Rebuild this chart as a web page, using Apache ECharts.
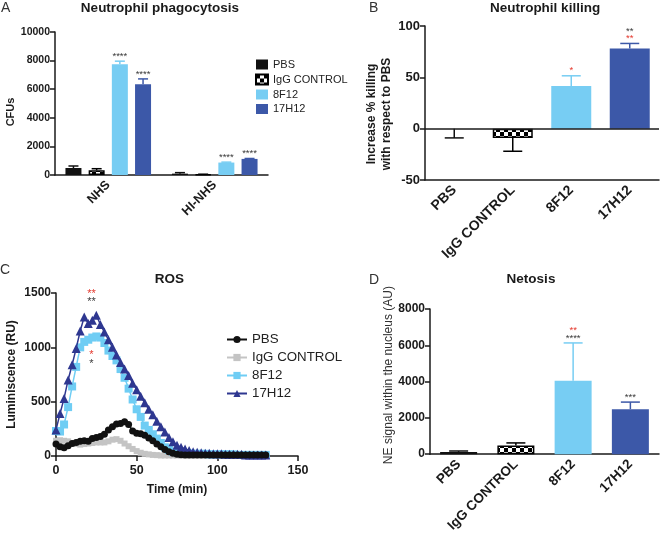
<!DOCTYPE html>
<html>
<head>
<meta charset="utf-8">
<script src="https://cdn.jsdelivr.net/npm/echarts@6.0.0/dist/echarts.min.js"></script>
<style>html,body{margin:0;padding:0;background:#fff}#chart{width:660px;height:535px}</style>
</head>
<body>
<div id="chart"></div>
<script>
// groups shared by all four panels
var groups = ['PBS', 'IgG CONTROL', '8F12', '17H12'];

// A - phagocytosis (per group: [NHS, HI-NHS])
var phagoCats = ['NHS', 'HI-NHS'];
var phagoMean = [[490, 95], [330, 45], [7750, 870], [6350, 1125]];
var phagoErr = [[140, 70], [110, 10], [210, 30], [370, 30]];
var phagoStars = [['', ''], ['', ''], ['****', '****'], ['****', '****']];

// B - killing
var killMean = [0, -9, 41.5, 78];
var killErr = [-9, -13, 10, 5];
var killStars = [[], [], [['*', 'r']], [['**', 'k'], ['**', 'r']]];

// C - ROS kinetics
var rosTime = [0, 2.5, 5, 7.5, 10, 12.5, 15, 17.5, 20, 22.5, 25, 27.5, 30, 32.5, 35, 37.5, 40, 42.5, 45, 47.5,
  50, 52.5, 55, 57.5, 60, 62.5, 65, 67.5, 70, 72.5, 75, 77.5, 80, 82.5, 85, 87.5, 90, 92.5, 95, 97.5,
  100, 102.5, 105, 107.5, 110, 112.5, 115, 117.5, 120, 122.5, 125, 127.5, 130];
var rosPBS = [110, 85, 75, 95, 115, 125, 135, 140, 135, 160, 170, 180, 200, 240, 270, 295, 300, 315, 290, 230,
  210, 205, 190, 165, 140, 110, 85, 60, 40, 25, 15, 12, 10, 10, 10, 10, 10, 10, 10, 10,
  10, 10, 10, 10, 10, 10, 10, 10, 10, 10, 10, 10, 10];
var rosIgG = [140, 145, 140, 135, 120, 110, 105, 110, 115, 120, 125, 125, 125, 135, 150, 155, 140, 115, 90, 65,
  45, 30, 20, 15, 10, 8, 5, 5, 5, 5, 5, 5, 5, 5, 5, 5, 5, 5, 5, 5,
  5, 5, 5, 5, 5, 5, 5, 5, 5, 5, 5, 5, 5];
var ros8F12 = [230, 225, 290, 450, 640, 820, 1000, 1050, 1070, 1090, 1100, 1090, 1040, 970, 920, 880, 800, 720, 620, 520,
  430, 360, 280, 240, 200, 160, 120, 80, 55, 40, 35, 30, 25, 25, 20, 20, 20, 20, 15, 15,
  15, 15, 15, 15, 15, 10, 10, 10, 10, 10, 10, 10, 10];
var ros17H12 = [240, 390, 530, 700, 840, 990, 1150, 1280, 1220, 1250, 1295, 1210, 1140, 1070, 1000, 930, 860, 800, 740, 670,
  610, 550, 490, 430, 380, 320, 270, 220, 170, 130, 100, 80, 65, 50, 40, 35, 30, 25, 25, 20,
  20, 20, 15, 15, 15, 15, 15, 10, 10, 10, 10, 10, 10];
var rosStarTime = 22;
var rosStars = [[1492, '**', 'r'], [1418, '**', 'k'], [930, '*', 'r'], [847, '*', 'k']];

// D - netosis
var netMean = [125, 480, 4040, 2480];
var netErr = [50, 140, 2090, 390];
var netStars = [[], [], [['**', 'r'], ['****', 'k']], [['***', 'k']]];

var FONT = '"Liberation Sans", Arial, Helvetica, sans-serif';
var INK = '#1a1a1a';
var RED = '#e5392e';
var STAR = '#3a3a3a';
var barColors = ['#111111', null, '#77cdf3', '#3c58a8'];
var lineColors = ['#111111', '#c4c4c4', '#6fcdf4', '#2e3790'];

// checkerboard for the IgG CONTROL bars
function checker(cell) {
  var c = document.createElement('canvas');
  c.width = c.height = cell * 2;
  var g = c.getContext('2d');
  g.fillStyle = '#fff';
  g.fillRect(0, 0, cell * 2, cell * 2);
  g.fillStyle = '#000';
  g.fillRect(0, 0, cell, cell);
  g.fillRect(cell, cell, cell, cell);
  return c;
}
var checkFill = { image: checker(4), repeat: 'repeat' };
barColors[1] = checkFill;

function barStyle(i) {
  if (i === 1) return { color: checkFill, borderColor: '#000', borderWidth: 1.5 };
  return { color: barColors[i] };
}
function errColor(i) { return i === 1 ? '#000' : barColors[i]; }

// error bars + significance stars drawn through the axes
function errorBars(axis, mean, err, stars, colorOf, offset, capHalf) {
  return {
    type: 'custom',
    xAxisIndex: axis,
    yAxisIndex: axis,
    z: 4,
    silent: true,
    encode: { x: 0, y: 1 },
    data: mean.map(function (v, i) { return [i, v, err[i]]; }),
    renderItem: function (params, api) {
      var i = params.dataIndex;
      var a = api.coord([api.value(0), api.value(1)]);
      var b = api.coord([api.value(0), api.value(1) + api.value(2)]);
      var x = a[0] + offset;
      var col = colorOf(i);
      var kids = [
        { type: 'line', shape: { x1: x, y1: a[1], x2: x, y2: b[1] }, style: { stroke: col, lineWidth: 1.5 } },
        { type: 'line', shape: { x1: x - capHalf, y1: b[1], x2: x + capHalf, y2: b[1] }, style: { stroke: col, lineWidth: 1.5 } }
      ];
      var lines = stars[i] || [];
      lines.forEach(function (ln, k) {
        var fromBottom = lines.length - 1 - k;
        kids.push({
          type: 'text', x: x, y: b[1] - fromBottom * 7.5,
          style: { text: ln[0], fill: ln[1] === 'r' ? RED : STAR, font: '9.5px ' + FONT, align: 'center', verticalAlign: 'bottom' }
        });
      });
      return { type: 'group', children: kids };
    }
  };
}

function plain(v) { return String(v); }

function catAxis(grid, data, size, onZero) {
  return {
    gridIndex: grid, type: 'category', data: data,
    axisLine: { onZero: onZero, lineStyle: { color: INK, width: 1.5 } },
    axisTick: { alignWithLabel: true, length: 5, lineStyle: { color: INK, width: 1.5 } },
    axisLabel: { rotate: 45, fontSize: size, fontWeight: 'bold', color: INK, margin: 8, fontFamily: FONT }
  };
}
function valAxis(grid, min, max, step, size, extra) {
  var ax = {
    gridIndex: grid, type: 'value', min: min, max: max, interval: step,
    splitLine: { show: false },
    axisLine: { show: true, onZero: false, lineStyle: { color: INK, width: 1.5 } },
    axisTick: { show: true, length: 5, lineStyle: { color: INK, width: 1.5 } },
    axisLabel: { fontSize: size, fontWeight: 'bold', color: INK, margin: 5, fontFamily: FONT, formatter: plain }
  };
  for (var k in extra) ax[k] = extra[k];
  return ax;
}

var series = [];

// A: grouped bars
var barW = 16, gapA = 0.45;
groups.forEach(function (name, s) {
  series.push({
    name: name, type: 'bar', xAxisIndex: 0, yAxisIndex: 0,
    barWidth: barW, barGap: '45%',
    itemStyle: barStyle(s),
    data: phagoMean[s]
  });
});
groups.forEach(function (name, s) {
  var st = phagoStars[s].map(function (t) { return t ? [[t, 'k']] : []; });
  series.push(errorBars(0, phagoMean[s], phagoErr[s], st, function () { return errColor(s); },
    (s - 1.5) * barW * (1 + gapA), 5));
});

// B: killing bars
series.push({
  type: 'bar', xAxisIndex: 1, yAxisIndex: 1, barWidth: 40,
  data: killMean.map(function (v, i) { return { value: v, itemStyle: barStyle(i) }; }),
  markLine: {
    silent: true, symbol: 'none', label: { show: false },
    lineStyle: { color: INK, width: 1.5, type: 'solid' },
    data: [{ yAxis: 0 }]
  }
});
series.push(errorBars(1, killMean, killErr, killStars, errColor, 0, 9.5));

// C: ROS lines (trailing space keeps legend C separate from legend A)
var rosSets = [rosPBS, rosIgG, ros8F12, ros17H12];
var rosSymbols = ['circle', 'rect', 'rect', 'triangle'];
var rosSizes = [7, 6, 8, 9];
var rosZ = [6, 3, 4, 5];
groups.forEach(function (name, s) {
  var ser = {
    name: name + ' ', type: 'line', xAxisIndex: 2, yAxisIndex: 2,
    symbol: rosSymbols[s], symbolSize: rosSizes[s], showSymbol: true,
    z: rosZ[s],
    lineStyle: { color: lineColors[s], width: 1.5 },
    itemStyle: { color: lineColors[s] },
    data: rosTime.map(function (t, i) { return [t, rosSets[s][i]]; })
  };
  if (s === 3) {
    ser.markPoint = {
      symbol: 'circle', symbolSize: 0, silent: true,
      label: { show: true, position: 'inside', formatter: '{b}', fontSize: 11, fontFamily: FONT },
      data: rosStars.map(function (r) {
        return { name: r[1], coord: [rosStarTime, r[0]], label: { color: r[2] === 'r' ? RED : STAR } };
      })
    };
  }
  series.push(ser);
});

// D: netosis bars
series.push({
  type: 'bar', xAxisIndex: 3, yAxisIndex: 3, barWidth: 37,
  data: netMean.map(function (v, i) { return { value: v, itemStyle: barStyle(i) }; })
});
series.push(errorBars(3, netMean, netErr, netStars, errColor, 0, 9.5));

function label(text, x, y, font, color, align) {
  return { type: 'text', x: x, y: y, silent: true,
    style: { text: text, font: font, fill: color, align: align || 'center', verticalAlign: 'middle' } };
}

var option = {
  animation: false,
  textStyle: { fontFamily: FONT },
  grid: [
    { left: 55, top: 32, width: 213, height: 143 },
    { left: 425, top: 26, width: 234, height: 154 },
    { left: 56, top: 293, width: 242, height: 163 },
    { left: 430, top: 309, width: 229, height: 151 }
  ],
  legend: [
    {
      left: 250, top: 54, orient: 'vertical', icon: 'rect',
      itemWidth: 12, itemHeight: 10, itemGap: 3.5,
      data: groups,
      textStyle: { fontSize: 11, color: '#222', fontFamily: FONT }
    },
    {
      left: 221, top: 328, orient: 'vertical',
      itemWidth: 20, itemHeight: 9, itemGap: 5,
      data: groups.map(function (g) { return g + ' '; }),
      textStyle: { fontSize: 13.3, color: '#222', fontFamily: FONT }
    }
  ],
  xAxis: [
    catAxis(0, phagoCats, 12.5, true),
    catAxis(1, groups, 14, false),
    {
      gridIndex: 2, type: 'value', min: 0, max: 150, interval: 50,
      splitLine: { show: false },
      axisLine: { show: true, onZero: false, lineStyle: { color: INK, width: 1.5 } },
      axisTick: { show: true, length: 5, lineStyle: { color: INK, width: 1.5 } },
      axisLabel: { fontSize: 12.5, fontWeight: 'bold', color: INK, margin: 8, fontFamily: FONT, formatter: plain },
      name: 'Time (min)', nameLocation: 'middle', nameGap: 28,
      nameTextStyle: { fontSize: 12, fontWeight: 'bold', color: INK, fontFamily: FONT }
    },
    catAxis(3, groups, 13.5, false)
  ],
  yAxis: [
    valAxis(0, 0, 10000, 2000, 10.5, {
      name: 'CFUs', nameLocation: 'middle', nameGap: 37, nameRotate: 90,
      nameTextStyle: { fontSize: 11, fontWeight: 'bold', color: INK, fontFamily: FONT, padding: [0, 17, 0, 0] }
    }),
    valAxis(1, -50, 100, 50, 13, {
      name: 'Increase % killing\nwith respect to PBS', nameLocation: 'middle', nameGap: 26, nameRotate: 90,
      nameTextStyle: { fontSize: 12, fontWeight: 'bold', color: INK, lineHeight: 15, fontFamily: FONT, padding: [0, 22, 0, 0] }
    }),
    valAxis(2, 0, 1500, 500, 12, {
      name: 'Luminiscence (RU)', nameLocation: 'middle', nameGap: 38, nameRotate: 90,
      nameTextStyle: { fontSize: 12, fontWeight: 'bold', color: INK, fontFamily: FONT }
    }),
    valAxis(3, 0, 8000, 2000, 12, {
      name: 'NE signal within the nucleus (AU)', nameLocation: 'middle', nameGap: 33, nameRotate: 90,
      nameTextStyle: { fontSize: 12, color: '#333', fontFamily: FONT, padding: [0, 0, 0, 13] }
    })
  ],
  graphic: [
    label('Neutrophil phagocytosis', 160, 8, 'bold 13.5px ' + FONT, INK),
    label('Neutrophil killing', 545, 8, 'bold 13.5px ' + FONT, INK),
    label('ROS', 169.5, 279, 'bold 13.5px ' + FONT, INK),
    label('Netosis', 531, 279, 'bold 13.5px ' + FONT, INK),
    label('A', 1, 8, '14px ' + FONT, '#333', 'left'),
    label('B', 369, 8, '14px ' + FONT, '#333', 'left'),
    label('C', 0, 270, '14px ' + FONT, '#333', 'left'),
    label('D', 369, 280, '14px ' + FONT, '#333', 'left')
  ],
  series: series
};

var chart = echarts.init(document.getElementById('chart'));
chart.setOption(option);
</script>
</body>
</html>
